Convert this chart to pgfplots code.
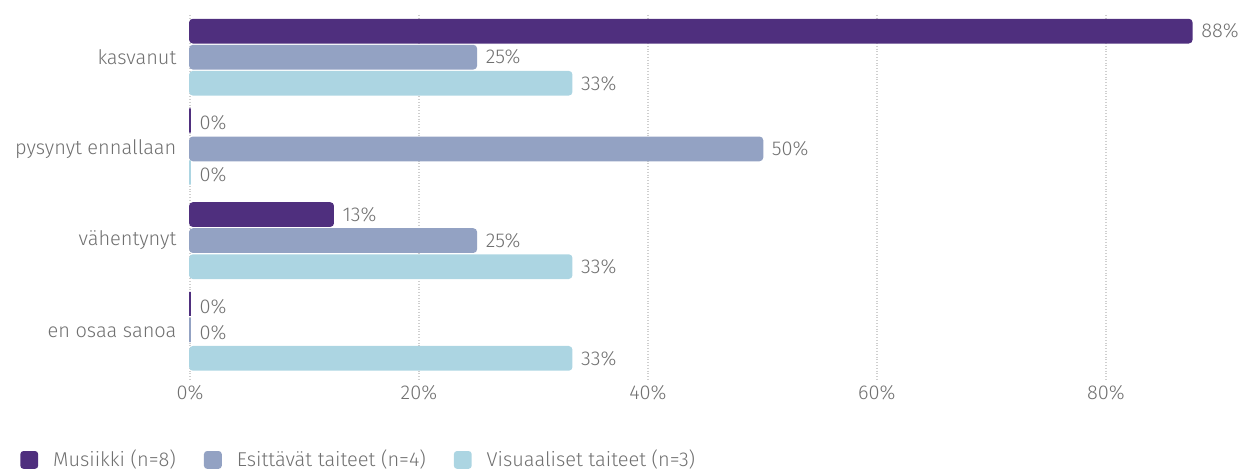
\documentclass[border=0pt]{standalone}
\usepackage{pgfplots}
\pgfplotsset{compat=1.18}
\usepackage{fontspec}
\setmainfont{Fira Sans}[UprightFont={* Light}]
\definecolor{musa}{HTML}{4F2F7E}
\definecolor{esit}{HTML}{93A2C3}
\definecolor{visu}{HTML}{ACD5E2}
\definecolor{txt}{HTML}{707070}
\definecolor{grd}{HTML}{CFCFCF}

\begin{document}
\begin{tikzpicture}[font=\fontsize{10}{12}\selectfont]
\path[use as bounding box] (0,0) rectangle (624.5pt,-237pt);
\begin{axis}[
  at={(95pt,-7.5pt)}, anchor=north west,
  scale only axis,
  width=510pt, height=182.5pt,
  xbar, bar width=0.25,
  xmin=0, xmax=89.1,
  ymin=-0.46, ymax=3.52, y dir=reverse,
  ytick={0,1,2,3},
  yticklabels={kasvanut, pysynyt ennallaan, vähentynyt, en osaa sanoa},
  xtick={0,20,40,60,80},
  xticklabel={\pgfmathprintnumber{\tick}\%},
  /pgf/number format/assume math mode=true,
  ticklabel style={text=txt},
  xticklabel style={yshift=1pt},
  yticklabel style={xshift=1pt},
  axis line style={draw=none},
  major tick style={draw=none},
  xmajorgrids,
  grid style={grd, densely dotted, line width=0.8pt},
  clip=false,
  nodes near coords={\pgfmathprintnumber[fixed,precision=0]{\pgfplotspointmeta}\%},
  every node near coord/.append style={text=txt, anchor=west, xshift=1pt},
  legend style={at={(-0.1667,-0.219)}, anchor=west, draw=none, fill=none,
    legend columns=-1, text=txt, inner sep=0pt,
    nodes={inner sep=0pt, anchor=west},
    /tikz/every odd column/.append style={column sep=7.5pt},
    /tikz/every even column/.append style={column sep=14pt}},
  legend image code/.code={\fill[#1, rounded corners=1.2pt] (0pt,-4pt) rectangle (8pt,4pt);},
]
\addplot[fill=musa, draw=musa, line width=0.9pt, rounded corners=1.5pt, bar shift=-0.284] coordinates {
  (87.5,0) (0,1) (12.5,2) (0,3)
};
\addplot[fill=esit, draw=esit, line width=0.9pt, rounded corners=1.5pt, bar shift=0] coordinates {
  (25,0) (50,1) (25,2) (0,3)
};
\addplot[fill=visu, draw=visu, line width=0.9pt, rounded corners=1.5pt, bar shift=0.284] coordinates {
  (33.333,0) (0,1) (33.333,2) (33.333,3)
};
\legend{Musiikki (n=8), Esittävät taiteet (n=4), Visuaaliset taiteet (n=3)}
\end{axis}
\end{tikzpicture}
\end{document}
